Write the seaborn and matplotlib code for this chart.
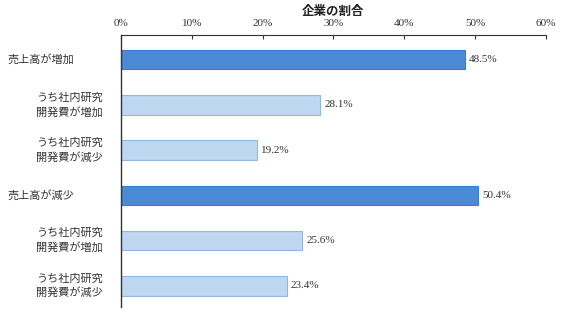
import matplotlib
matplotlib.use("Agg")
import matplotlib.pyplot as plt
import seaborn as sns
import pandas as pd
from matplotlib.ticker import FuncFormatter
from matplotlib.transforms import blended_transform_factory

categories = ["売上高が増加", "うち社内研究\n開発費が増加", "うち社内研究\n開発費が減少",
              "売上高が減少", "うち社内研究\n開発費が増加 ", "うち社内研究\n開発費が減少 "]
values = [48.5, 28.1, 19.2, 50.4, 25.6, 23.4]
kinds = ["main", "sub", "sub", "main", "sub", "sub"]
value_labels = ["48.5%", "28.1%", "19.2%", "50.4%", "25.6%", "23.4%"]
x_ticks = [0, 10, 20, 30, 40, 50, 60]
title = "企業の割合"

sns.set_theme(style="white")
plt.rcParams['font.family'] = ['Noto Sans CJK JP', 'DejaVu Sans']

df = pd.DataFrame({"cat": categories, "val": values, "kind": kinds})
colors = {"main": "#4a8ad6", "sub": "#bfd7f0"}
edges = {"main": "#3d7cc6", "sub": "#92b8e0"}

fig = plt.figure(figsize=(5.7, 3.14), dpi=100)
ax = fig.add_axes([0.212, 0.022, 0.746, 0.867])
sns.barplot(data=df, y="cat", x="val", hue="kind", orient="h", dodge=False,
            palette=colors, width=0.43, saturation=1,
            legend=False, ax=ax)
for p in ax.patches:
    yc = p.get_y() + p.get_height() / 2
    idx = int(round(yc))
    if 0 <= idx < len(kinds):
        p.set_edgecolor(edges[kinds[idx]])
        p.set_linewidth(0.8)

ax.set_xlim(0, 60)
ax.set_ylim(5.47, -0.55)
ax.set_xticks(x_ticks)
ax.xaxis.set_major_formatter(FuncFormatter(lambda v, pos: f"{int(v)}%"))
ax.xaxis.tick_top()
ax.xaxis.set_label_position("top")
ax.tick_params(axis="x", which="both", top=True, bottom=False, length=3, width=0.8,
               direction="in", pad=5, labelsize=8, colors="#333333")
for lbl in ax.get_xticklabels():
    lbl.set_family(['Liberation Serif', 'DejaVu Serif'])
ax.set_yticks(range(len(categories)))
ax.set_yticklabels([])
ax.tick_params(axis="y", left=False)
ax.set_xlabel(title, fontsize=9, fontweight="bold", labelpad=3, color="#222222")
ax.set_ylabel("")
for s in ["right", "bottom"]:
    ax.spines[s].set_visible(False)
ax.spines["top"].set_color("#333333")
ax.spines["left"].set_color("#333333")
ax.spines["top"].set_linewidth(0.8)
ax.spines["left"].set_linewidth(1.0)

trans = blended_transform_factory(fig.transFigure, ax.transData)
for i, (c, k) in enumerate(zip(categories, kinds)):
    if k == "main":
        ax.text(7 / 570, i, c.strip(), transform=trans, ha="left", va="center",
                fontsize=8, color="#333333")
    else:
        ax.text(103 / 570, i, c.strip(), transform=trans, ha="right", va="center",
                fontsize=8, color="#333333", linespacing=1.45, multialignment="right")

for i, (v, t) in enumerate(zip(values, value_labels)):
    ax.text(v + 0.6, i, t, va="center", ha="left", fontsize=8,
            family=['Liberation Serif', 'DejaVu Serif'], color="#333333")

fig.savefig("out.png", dpi=100)
